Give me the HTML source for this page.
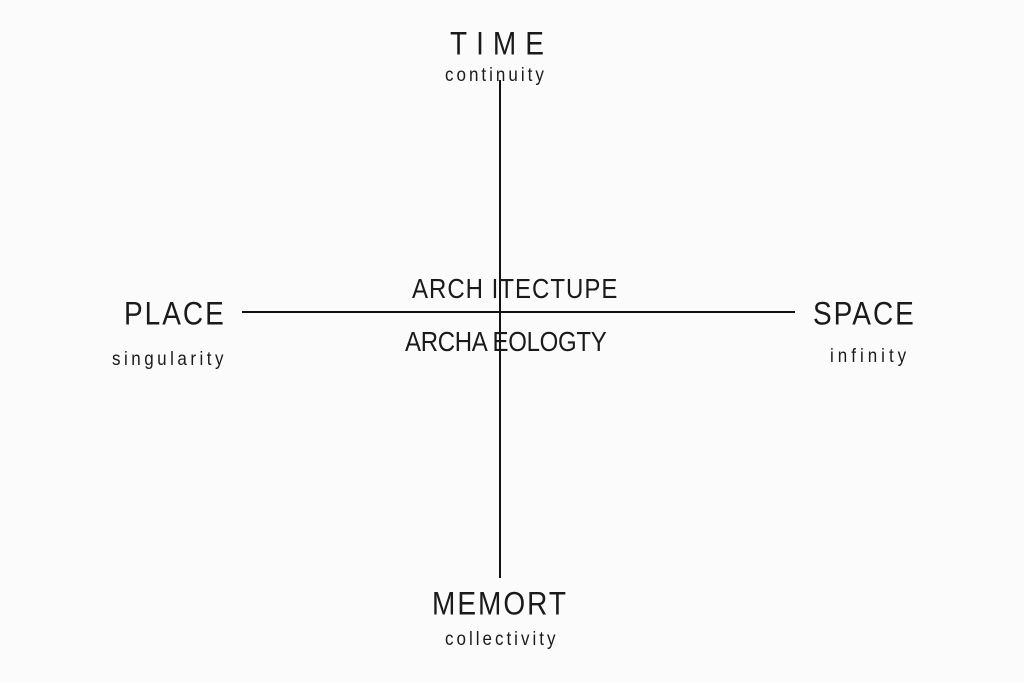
<!DOCTYPE html>
<html><head><meta charset="utf-8"><style>
html,body{margin:0;padding:0}
body{width:1024px;height:683px;background:#fbfbfb;position:relative;overflow:hidden;font-family:"Liberation Sans",sans-serif;color:#1a1a1a}
.t{position:absolute;white-space:nowrap;line-height:1;font-weight:normal;transform:scaleY(1.15)}
.b{font-size:28px;letter-spacing:2px}
.s{font-size:17px;letter-spacing:2.5px}
.line{position:absolute;background:#111}
</style></head><body>
<div class="line" style="left:499px;top:80px;width:2px;height:498px"></div>
<div class="line" style="left:242px;top:311px;width:553px;height:2px"></div>

<div class="t b" style="left:450px;top:30px;letter-spacing:9px">TIME</div>
<div class="t s" style="left:445px;top:66px;letter-spacing:3px">continuity</div>

<div class="t b" style="left:124px;top:300px">PLACE</div>
<div class="t s" style="left:112px;top:350px;letter-spacing:3.5px">singularity</div>

<div class="t b" style="left:813px;top:300px">SPACE</div>
<div class="t s" style="left:830px;top:347px;letter-spacing:4px">infinity</div>

<div class="t" style="left:412px;top:278px;font-size:24px;letter-spacing:1px">ARCH ITECTUPE</div>
<div class="t" style="left:405px;top:331px;font-size:24px;letter-spacing:-0.3px">ARCHA EOLOGTY</div>

<div class="t b" style="left:432px;top:590px">MEMORT</div>
<div class="t s" style="left:445px;top:630px;letter-spacing:3px">collectivity</div>
</body></html>
